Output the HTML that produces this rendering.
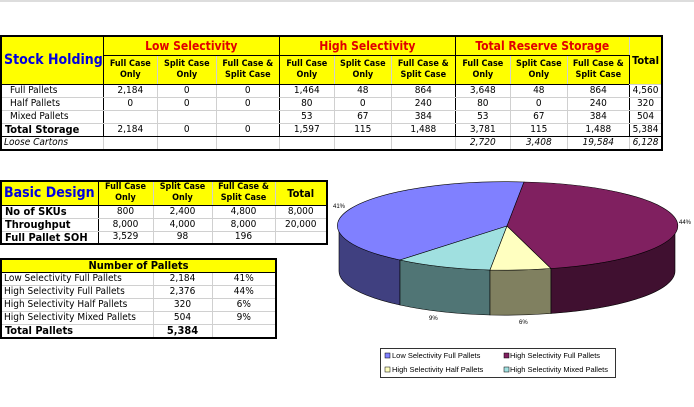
<!DOCTYPE html>
<html><head><meta charset="utf-8"><style>
body{margin:0;width:694px;height:407px;background:#fff;position:relative;overflow:hidden;font-family:"DejaVu Sans Condensed","Liberation Sans",sans-serif;}
.topline{position:absolute;left:0;top:0;width:694px;height:2px;background:#ddd;}
table{position:absolute;border-collapse:collapse;table-layout:fixed;font-size:10px;}
td{padding:0;text-align:center;border:1px solid #d0d0d0;overflow:hidden;white-space:nowrap;line-height:1;}
.y{background:#ffff00;}
.hd{font-weight:bold;font-size:9px;line-height:11px;white-space:normal;}
.red{color:#e00000;font-weight:bold;font-size:12px;}
.blue{color:#0000e0;font-weight:bold;font-size:14px;text-align:left;padding-left:2px;}
.bl{border-left:1px solid #000;}
.br{border-right:1px solid #000;}
.bt{border-top:1px solid #000;}
.bb{border-bottom:1px solid #000;}
.l{text-align:left;padding-left:8px;}
.lb{text-align:left;padding-left:3px;font-weight:bold;font-size:11px;}
.it{font-style:italic;}
.lg{font-family:"Liberation Sans",sans-serif;font-size:7.5px;fill:#000;}
</style></head><body>
<div class="topline"></div>

<table style="left:0;top:35px;border:2px solid #000;">
<colgroup><col style="width:97px"><col style="width:54px"><col style="width:59px"><col style="width:63px"><col style="width:55px"><col style="width:57px"><col style="width:64px"><col style="width:55px"><col style="width:57px"><col style="width:62px"><col style="width:33px"></colgroup>
<tr style="height:19px"><td class="y blue br bb" rowspan="2">Stock Holding</td><td class="y red br bb" colspan="3">Low Selectivity</td><td class="y red br bb" colspan="3">High Selectivity</td><td class="y red bb" colspan="3">Total Reserve Storage</td><td class="y bl" rowspan="2" style="font-weight:bold;font-size:11px">Total</td></tr>
<tr style="height:29px"><td class="y hd bb">Full Case Only</td><td class="y hd bb">Split Case Only</td><td class="y hd bb br">Full Case &amp; Split Case</td><td class="y hd bb">Full Case Only</td><td class="y hd bb">Split Case Only</td><td class="y hd bb br">Full Case &amp; Split Case</td><td class="y hd bb">Full Case Only</td><td class="y hd bb">Split Case Only</td><td class="y hd bb br">Full Case &amp; Split Case</td></tr>
<tr style="height:13px"><td class="l br bt">Full Pallets</td><td>2,184</td><td>0</td><td class="br">0</td><td>1,464</td><td>48</td><td class="br">864</td><td>3,648</td><td>48</td><td class="br">864</td><td>4,560</td></tr>
<tr style="height:13px"><td class="l br">Half Pallets</td><td>0</td><td>0</td><td class="br">0</td><td>80</td><td>0</td><td class="br">240</td><td>80</td><td>0</td><td class="br">240</td><td>320</td></tr>
<tr style="height:13px"><td class="l br">Mixed Pallets</td><td></td><td></td><td class="br"></td><td>53</td><td>67</td><td class="br">384</td><td>53</td><td>67</td><td class="br">384</td><td>504</td></tr>
<tr style="height:13px"><td class="lb br bt bb">Total Storage</td><td class="bt bb">2,184</td><td class="bt bb">0</td><td class="bt bb br">0</td><td class="bt bb">1,597</td><td class="bt bb">115</td><td class="bt bb br">1,488</td><td class="bt bb">3,781</td><td class="bt bb">115</td><td class="bt bb br">1,488</td><td class="bt bb">5,384</td></tr>
<tr style="height:14px"><td class="it" style="text-align:left;padding-left:2px">Loose Cartons</td><td></td><td></td><td></td><td></td><td></td><td></td><td class="it">2,720</td><td class="it">3,408</td><td class="it">19,584</td><td class="it">6,128</td></tr>
</table>

<table style="left:0;top:180px;border:2px solid #000;">
<colgroup><col style="width:97px"><col style="width:55px"><col style="width:59px"><col style="width:63px"><col style="width:52px"></colgroup>
<tr style="height:24px"><td class="y blue bb br">Basic Design</td><td class="y hd bb">Full Case Only</td><td class="y hd bb">Split Case Only</td><td class="y hd bb">Full Case &amp; Split Case</td><td class="y bb bl" style="font-weight:bold;font-size:11px">Total</td></tr>
<tr style="height:13px"><td class="lb br">No of SKUs</td><td>800</td><td>2,400</td><td>4,800</td><td class="bl">8,000</td></tr>
<tr style="height:13px"><td class="lb br">Throughput</td><td>8,000</td><td>4,000</td><td>8,000</td><td class="bl">20,000</td></tr>
<tr style="height:13px"><td class="lb br">Full Pallet SOH</td><td>3,529</td><td>98</td><td>196</td><td class="bl"></td></tr>
</table>

<table style="left:0;top:258px;border:2px solid #000;">
<colgroup><col style="width:152px"><col style="width:59px"><col style="width:64px"></colgroup>
<tr style="height:13px"><td class="y bb" colspan="3" style="font-weight:bold;font-size:11px">Number of Pallets</td></tr>
<tr style="height:13px"><td style="text-align:left;padding-left:2px">Low Selectivity Full Pallets</td><td>2,184</td><td>41%</td></tr>
<tr style="height:13px"><td style="text-align:left;padding-left:2px">High Selectivity Full Pallets</td><td>2,376</td><td>44%</td></tr>
<tr style="height:13px"><td style="text-align:left;padding-left:2px">High Selectivity Half Pallets</td><td>320</td><td>6%</td></tr>
<tr style="height:13px"><td style="text-align:left;padding-left:2px">High Selectivity Mixed Pallets</td><td>504</td><td>9%</td></tr>
<tr style="height:14px"><td class="lb bt">Total Pallets</td><td class="bt" style="font-weight:bold;font-size:11px">5,384</td><td class="bt"></td></tr>
</table>

<svg style="position:absolute;left:0;top:0" width="694" height="407">
<g stroke="#000" stroke-width="0.6">
<path d="M339,226 A168,44 0 0 0 400,260 L400,305 A168,44 0 0 1 339,271 Z" fill="#404080"/>
<path d="M400,260 A168,44 0 0 0 490,270 L490,315 A168,44 0 0 1 400,305 Z" fill="#507575"/>
<path d="M490,270 A168,44 0 0 0 551,268.5 L551,313.5 A168,44 0 0 1 490,315 Z" fill="#808060"/>
<path d="M551,268.5 A168,44 0 0 0 675,226 L675,271 A168,44 0 0 1 551,313.5 Z" fill="#401030"/>
<path d="M507,226 L524,182 A168,44 0 0 0 400,260 Z" fill="#8080ff"/>
<path d="M507,226 L400,260 A168,44 0 0 0 490,270 Z" fill="#a0e0e0"/>
<path d="M507,226 L490,270 A168,44 0 0 0 551,268.5 Z" fill="#ffffc0"/>
<path d="M507,226 L551,268.5 A168,44 0 0 0 524,182 Z" fill="#802060"/>
</g>
<text x="333" y="208" class="lg" style="font-size:6px">41%</text>
<text x="679" y="224" class="lg" style="font-size:6px">44%</text>
<text x="429" y="320" class="lg" style="font-size:6px">9%</text>
<text x="519" y="324" class="lg" style="font-size:6px">6%</text>
<rect x="380.5" y="348.5" width="235" height="29" fill="#fff" stroke="#000" stroke-width="0.8"/>
<rect x="385" y="353" width="5" height="5" fill="#8080ff" stroke="#000" stroke-width="0.5"/>
<text x="392" y="358" class="lg">Low Selectivity Full Pallets</text>
<rect x="504" y="353" width="5" height="5" fill="#802060" stroke="#000" stroke-width="0.5"/>
<text x="510" y="358" class="lg">High Selectivity Full Pallets</text>
<rect x="385" y="367" width="5" height="5" fill="#ffffc0" stroke="#000" stroke-width="0.5"/>
<text x="392" y="372" class="lg">High Selectivity Half Pallets</text>
<rect x="504" y="367" width="5" height="5" fill="#a0e0e0" stroke="#000" stroke-width="0.5"/>
<text x="510" y="372" class="lg">High Selectivity Mixed Pallets</text>
</svg>
</body></html>
